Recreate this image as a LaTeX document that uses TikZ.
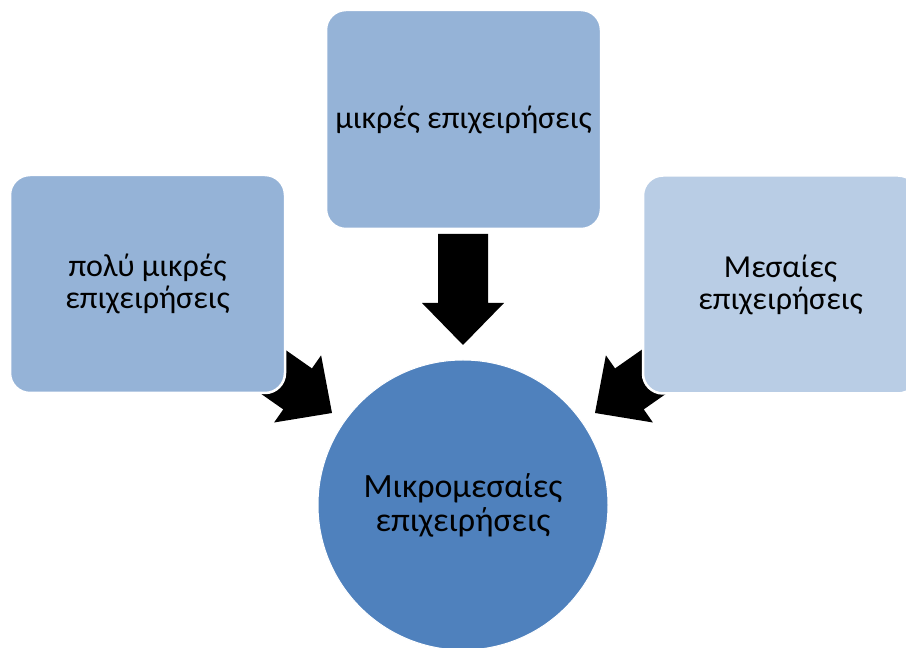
\documentclass[tikz,border=0pt]{standalone}
\usepackage{fontspec}
\setmainfont{Carlito}
\definecolor{boxblue}{HTML}{95B3D7}
\definecolor{lightblue}{HTML}{B9CDE5}
\definecolor{circblue}{HTML}{4F81BD}
\tikzset{
  card/.style={rounded corners=20pt, draw=white, line width=2.5pt, minimum width=275pt, minimum height=218pt, align=center, font=\fontsize{32}{32}\selectfont, inner sep=0pt},
  hub/.style={circle, fill=circblue, draw=white, line width=1pt, minimum size=290pt, align=center, font=\fontsize{34}{34}\selectfont, inner sep=0pt},
  blockarrow/.style={fill=black}
}
\newcommand{\blockarr}[2]{%
  \fill[blockarrow, shift={(#1)}, rotate=#2] (0,0) -- (-42,41) -- (-42,25) -- (-111,25) -- (-111,-25) -- (-42,-25) -- (-42,-41) -- cycle;}
\begin{document}
\begin{tikzpicture}[x=1pt,y=1pt]
\useasboundingbox (0,0) rectangle (906,648);
\clip (0,0) rectangle (906,648);
\coordinate (tipL) at (332,235);
\coordinate (tipT) at (463,303);
\coordinate (tipR) at (595,235);
\blockarr{tipL}{-35}
\blockarr{tipT}{-90}
\blockarr{tipR}{-145}
\node[card, fill=boxblue] (left) at (147.5,364) {πολύ μικρές\\επιχειρήσεις};
\node[card, fill=boxblue, minimum height=219pt] (top) at (463.5,528.5) {μικρές επιχειρήσεις};
\node[card, fill=lightblue] (right) at (780.5,363.5) {Μεσαίες\\επιχειρήσεις};
\node[hub] (hub) at (463,143) {Μικρομεσαίες\\επιχειρήσεις};
\end{tikzpicture}
\end{document}
